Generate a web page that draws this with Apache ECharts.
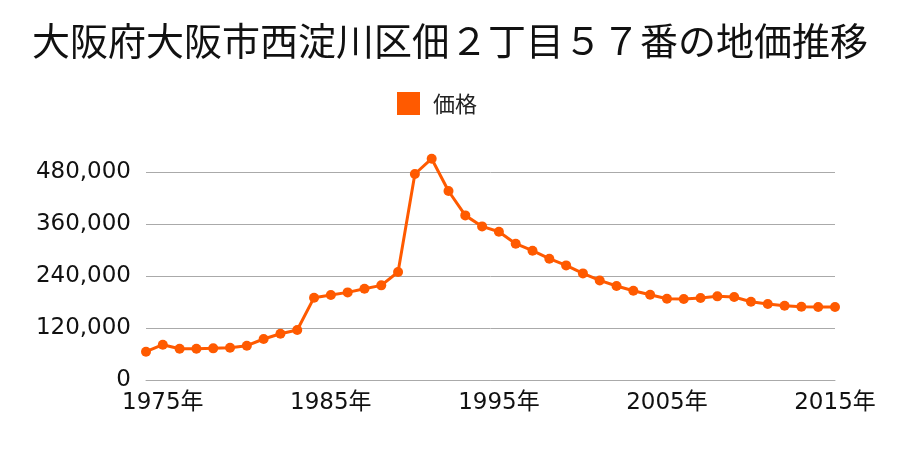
<!DOCTYPE html>
<html>
<head>
<meta charset="utf-8">
<script src="https://cdn.jsdelivr.net/npm/echarts@6/dist/echarts.min.js"></script>
<style>html,body{margin:0;padding:0;background:#fff}#c{width:900px;height:450px}</style>
</head>
<body>
<div id="c"></div>
<script>
var titleText = '大阪府大阪市西淀川区佃２丁目５７番の地価推移';
var seriesName = '価格';
var years = [1974,1975,1976,1977,1978,1979,1980,1981,1982,1983,1984,1985,1986,1987,1988,1989,1990,1991,1992,1993,1994,1995,1996,1997,1998,1999,2000,2001,2002,2003,2004,2005,2006,2007,2008,2009,2010,2011,2012,2013,2014,2015];
var prices = [65300,81500,72200,72200,73000,74500,79200,94600,106800,115400,190000,196000,202200,210700,218400,249200,475400,510700,436200,379900,354500,342200,314500,298400,280000,264500,246000,229800,216900,206000,196800,187600,186900,189200,193000,191500,180700,175400,171500,169200,168500,168500];
var labelYears = [1975,1985,1995,2005,2015];
var yTicks = [0,120000,240000,360000,480000];

var font = '"Noto Sans CJK JP", "Noto Sans", sans-serif';
var numFont = '"DejaVu Sans", "Noto Sans CJK JP", sans-serif';
var color = '#ff5a00';
var chart = echarts.init(document.getElementById('c'), null, {renderer:'canvas'});
chart.setOption({
  animation:false,
  backgroundColor:'#fff',
  title:{text:titleText,left:'center',top:17,textStyle:{fontFamily:font,fontSize:38,fontWeight:'normal',color:'#111'}},
  legend:{data:[seriesName],top:87,left:392,itemWidth:23,itemHeight:23,itemGap:10,icon:'rect',
    textStyle:{fontFamily:font,fontSize:22,color:'#222',padding:[0,0,0,8]}},
  grid:{left:146,right:65,top:172,bottom:70,containLabel:false},
  xAxis:{type:'category',data:years.map(String),boundaryGap:false,
    axisLine:{show:true,lineStyle:{color:'#aaa',width:1}},axisTick:{show:false},
    axisLabel:{interval:function(i,v){return labelYears.indexOf(+v)>=0;},formatter:function(v){return v+'年';},
      fontFamily:numFont,fontSize:23,color:'#111',margin:12},
    splitLine:{show:false}},
  yAxis:{type:'value',min:0,max:yTicks[yTicks.length-1],interval:120000,
    axisLine:{show:false},axisTick:{show:false},
    axisLabel:{fontFamily:numFont,fontSize:23,color:'#111',margin:15,padding:[4,0,0,0],formatter:function(v){return v.toLocaleString('en-US');}},
    splitLine:{show:true,lineStyle:{color:'#aaa',width:1}}},
  series:[{name:seriesName,type:'line',data:prices,clip:false,color:color,
    lineStyle:{color:color,width:3},itemStyle:{color:color},symbol:'circle',symbolSize:10,showSymbol:true}]
});
</script>
</body>
</html>
